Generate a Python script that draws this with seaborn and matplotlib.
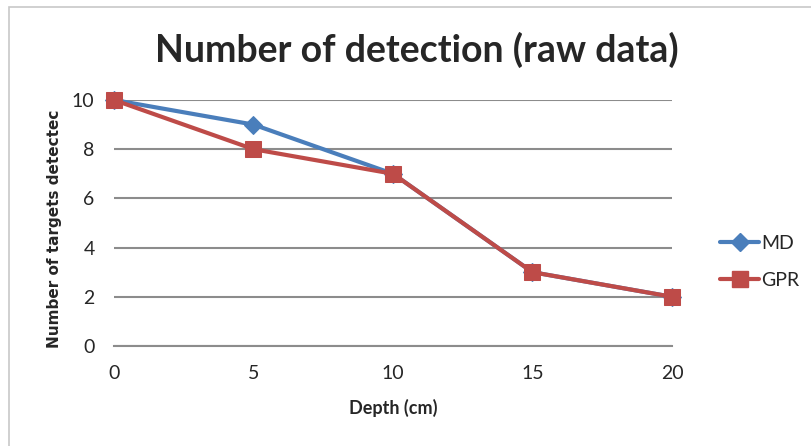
import matplotlib
matplotlib.use("Agg")
import matplotlib.pyplot as plt
import seaborn as sns
import pandas as pd
from matplotlib.patches import Rectangle
from matplotlib.lines import Line2D

depth = [0, 5, 10, 15, 20]
md_values = [10, 9, 7, 3, 2]
gpr_values = [10, 8, 7, 3, 2]
y_ticks = [0, 2, 4, 6, 8, 10]

sns.set_theme(style="white")
plt.rcParams['font.family'] = ['Lato', 'DejaVu Sans']

fig = plt.figure(figsize=(8.12, 4.46), dpi=100)
ax = fig.add_axes([114/812, 1-346/446, (672-114)/812, (346-100)/446])

blue = "#4A7EBB"
red = "#BE4B48"

md_df = pd.DataFrame({"Depth": depth, "Count": md_values})
gpr_df = pd.DataFrame({"Depth": depth, "Count": gpr_values})

sns.lineplot(data=md_df, x="Depth", y="Count", ax=ax, color=blue, linewidth=3,
             marker="D", markersize=9, markeredgecolor=blue, clip_on=False, zorder=3)
sns.lineplot(data=gpr_df, x="Depth", y="Count", ax=ax, color=red, linewidth=3,
             marker="s", markersize=11.5, markeredgecolor=red, clip_on=False, zorder=4)

ax.set_xlim(0, 20)
ax.set_ylim(0, 10)
ax.set_xticks(depth)
ax.set_yticks(y_ticks)
ax.set_xticklabels([str(d) for d in depth], fontsize=14)
ax.set_yticklabels([str(t) for t in y_ticks], fontsize=14)
ax.tick_params(axis="y", length=0, pad=14)
ax.tick_params(axis="x", length=0, pad=14)
ax.yaxis.grid(True, color="#8C8C8C", linewidth=1.5)
ax.set_axisbelow(True)
for s in ["top", "right", "left"]:
    ax.spines[s].set_visible(False)
ax.spines["bottom"].set_color("#8C8C8C")
ax.spines["bottom"].set_linewidth(1.5)

ax.set_xlabel("Depth (cm)", fontsize=13, fontweight="bold", labelpad=12)
ax.set_ylabel("Number of targets detectec", fontsize=11, fontweight="bold",
              family=["DejaVu Sans"])
ax.yaxis.set_label_coords((62 - 114) / 558, (346 - 229) / 246)
fig.text(417/812, 1-50/446, "Number of detection (raw data)", ha="center", va="center",
         fontsize=27, fontweight="bold")

handles = [Line2D([], [], color=blue, linewidth=3, marker="D", markersize=9),
           Line2D([], [], color=red, linewidth=3, marker="s", markersize=11.5)]
fig.legend(handles, ["MD", "GPR"], loc="center left", bbox_to_anchor=(703/812, 1-262/446),
           frameon=False, fontsize=14, handlelength=2.0, handletextpad=0.1, labelspacing=1.0)

fig.patches.append(Rectangle((9/812, -0.1), 1.0, 1-7/446+0.1, transform=fig.transFigure,
                             fill=False, edgecolor="#C8C8C8", linewidth=1.2))

fig.savefig("out.png", dpi=100)
